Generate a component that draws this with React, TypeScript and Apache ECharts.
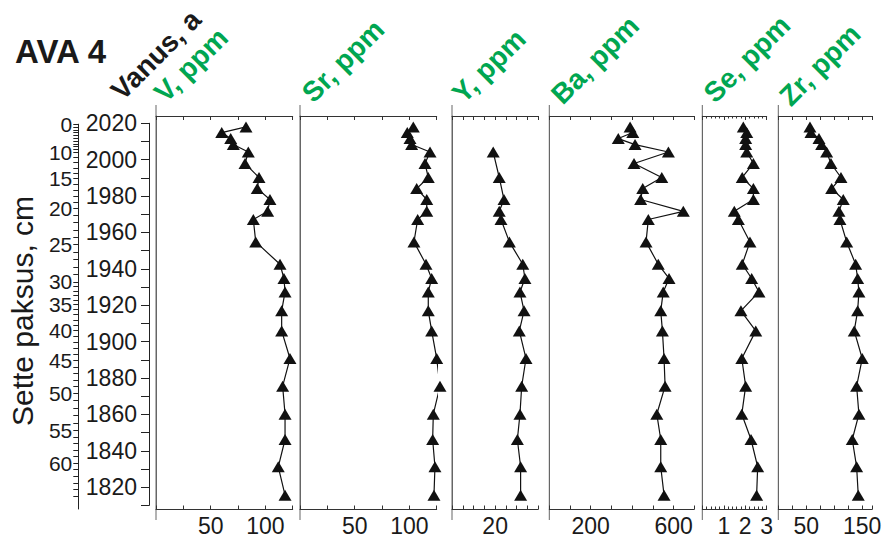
import React, { useEffect, useRef } from "react";
import * as echarts from "echarts";

// ---------- data ----------
const chartTitle = "AVA 4";
const ageAxisTitle = "Vanus, a";
const depthAxisTitle = "Sette paksus, cm";

const elementNames = ["V, ppm", "Sr, ppm", "Y, ppm", "Ba, ppm", "Se, ppm", "Zr, ppm"];

// sample ages (years AD), top to bottom
const sampleAges = [2018.0, 2014.9, 2011.6, 2008.3, 2004.2, 1997.9, 1990.2, 1984.1, 1978.1, 1971.6, 1967.1, 1954.8, 1942.5, 1934.7, 1927.3, 1916.9, 1905.9, 1890.7, 1875.5, 1860.1, 1846.2, 1831.2, 1815.6];

const vValues = [82.3, 60.1, 68.3, 70.7, 84.4, 81.4, 94.2, 92.6, 104.2, 102.1, 89.0, 91.2, 113.4, 117.0, 118.0, 114.9, 114.9, 122.5, 115.8, 118.0, 118.0, 111.8, 118.0];
const srValues = [103.6, 98.1, 100.6, 102.1, 118.9, 114.3, 117.3, 106.7, 115.9, 115.9, 107.6, 104.2, 115.2, 120.4, 117.3, 117.3, 120.4, 125.0, 128.0, 121.9, 121.3, 123.4, 122.5];
const yValues = [null, null, null, null, 19.1, null, 21.9, null, 24.1, 21.9, 22.7, 26.6, 32.8, 33.8, 31.5, 33.4, 31.2, 34.3, 32.3, 31.5, 30.3, 31.8, 31.8];
const baValues = [390, 403, 333, 414, 575, 409, 543, 451, 441, 647, 478, 467, 526, 578, 550, 538, 546, 554, 559, 519, 538, 538, 554];
const seValues = [1.91, 2.07, 2.02, 2.02, 2.07, 2.38, 1.86, 2.38, 2.38, 1.49, 1.68, 2.22, 1.86, 2.3, 2.64, 1.8, 2.49, 1.84, 2.02, 1.84, 2.27, 2.58, 2.53];
const zrValues = [56.6, 58.4, 72.7, 77.5, 86.4, 94.1, 112.0, 95.4, 116.1, 108.4, 110.2, 122.2, 138.2, 141.8, 144.1, 141.8, 135.7, 150.0, 140.0, 144.1, 132.2, 140.0, 142.9];

const panelValues = [vValues, srValues, yValues, baValues, seValues, zrValues];

const axisMins = [0, 0, 0, 0, 0, 0];
const axisMaxs = [125, 125, 40, 700, 3, 168];
const tickSteps = [25, 25, 5, 100, 1, 25];
const shownTickLabels = [[50, 100], [50, 100], [20], [200, 600], [1, 2, 3], [50, 150]];

// age axis
const ageAxisMin = 1810;
const ageAxisMax = 2020;
const ageTickStep = 10;
const ageLabelStep = 20;

// depth axis: labelled depths (cm) and the ages they sit at
const depthTickLabels = [0, 10, 15, 20, 25, 30, 35, 40, 45, 50, 55, 60];
const depthTickAges = [2019.5, 2004.1, 1989.8, 1973.3, 1953.5, 1932.9, 1920.5, 1906.2, 1889.8, 1871.6, 1851.3, 1833.2];
const depthLastTick = 65;

// ---------- layout ----------
const W = 883;
const H = 540;
const PLOT_TOP = 116;
const PLOT_BOTTOM = 509;
const AGE_TOP = 2024;
const AGE_BOTTOM = 1808;
const panelLeft = [156, 300, 452, 549.3, 702.3, 778.3];
const panelWidth = [136.7, 136.7, 86.3, 145, 64.4, 94];
const nameCenters = [[191, 65], [343, 61], [489, 66], [595, 60], [747, 59], [820, 65]];
const AGE_AXIS_X = 149;
const DEPTH_AXIS_X = 78.3;
const FONT = "'Liberation Sans', Arial, Helvetica, sans-serif";
const GREEN = "#00A651";
const INK = "#1a1a1a";

function yOf(age: number) {
  return PLOT_TOP + ((AGE_TOP - age) * (PLOT_BOTTOM - PLOT_TOP)) / (AGE_TOP - AGE_BOTTOM);
}

function buildDepthMinorAges() {
  const out: number[] = [];
  for (let k = 0; k < depthTickLabels.length - 1; k++) {
    const d0 = depthTickLabels[k], d1 = depthTickLabels[k + 1];
    const a0 = depthTickAges[k], a1 = depthTickAges[k + 1];
    for (let d = d0; d < d1; d++) out.push(a0 + ((a1 - a0) * (d - d0)) / (d1 - d0));
  }
  const n = depthTickLabels.length;
  const slope = (depthTickAges[n - 1] - depthTickAges[n - 2]) / (depthTickLabels[n - 1] - depthTickLabels[n - 2]);
  for (let d = depthTickLabels[n - 1]; d <= depthLastTick; d++) {
    const a = depthTickAges[n - 1] + slope * (d - depthTickLabels[n - 1]);
    if (a >= AGE_BOTTOM) out.push(a);
  }
  return out;
}

function buildOption() {
  const labelStyle = { fontFamily: FONT, fontSize: 23, color: INK };
  const grids: any[] = [];
  const xAxes: any[] = [];
  const yAxes: any[] = [];
  const series: any[] = [];
  const graphics: any[] = [];

  elementNames.forEach((name, i) => {
    grids.push({
      left: panelLeft[i],
      width: panelWidth[i],
      top: PLOT_TOP,
      height: PLOT_BOTTOM - PLOT_TOP,
      containLabel: false,
      outerBoundsMode: "none",
    });
    const shown = shownTickLabels[i];
    const common = {
      gridIndex: i,
      type: "value",
      min: axisMins[i],
      max: axisMaxs[i],
      interval: tickSteps[i],
      splitLine: { show: false },
      minorSplitLine: { show: false },
      minorTick: i === 4 ? { show: true, splitNumber: 5, length: 2.5, lineStyle: { color: "#333" } } : { show: false },
    };
    xAxes.push({
      ...common,
      position: "bottom",
      axisLine: { show: true, onZero: false, lineStyle: { color: "#333", width: 1 } },
      axisTick: { show: true, inside: true, length: 3.5, lineStyle: { color: "#333" } },
      axisLabel: {
        show: true,
        margin: 5,
        ...labelStyle,
        showMinLabel: true,
        showMaxLabel: true,
        formatter: (v: number) => (shown.some((s) => Math.abs(s - v) < 1e-9) ? String(v) : ""),
      },
    });
    xAxes.push({
      ...common,
      position: "top",
      axisLine: { show: true, onZero: false, lineStyle: { color: "#333", width: 1 } },
      axisTick: { show: true, inside: true, length: 4, lineStyle: { color: "#333" } },
      axisLabel: { show: false },
    });
    yAxes.push({
      gridIndex: i,
      type: "value",
      position: "left",
      min: AGE_BOTTOM,
      max: AGE_TOP,
      axisLine: { show: true, onZero: false, lineStyle: { color: "#666", width: 1 } },
      axisTick: { show: false },
      axisLabel: { show: false },
      splitLine: { show: false },
    });
    const vals = panelValues[i];
    const data: number[][] = [];
    vals.forEach((v, k) => {
      if (v !== null && v !== undefined) data.push([v as number, sampleAges[k]]);
    });
    series.push({
      type: "line",
      name,
      xAxisIndex: 2 * i,
      yAxisIndex: i,
      data,
      symbol: "triangle",
      symbolSize: [13, 11],
      showSymbol: true,
      clip: false,
      silent: true,
      itemStyle: { color: "#111" },
      lineStyle: { color: "#111", width: 1.2 },
    });
    // element name, rotated
    graphics.push({
      type: "text",
      x: nameCenters[i][0],
      y: nameCenters[i][1],
      rotation: Math.PI / 4,
      style: {
        text: name,
        align: "center",
        verticalAlign: "middle",
        fontFamily: FONT,
        fontSize: 28,
        fontWeight: "bold",
        fill: GREEN,
      },
    });
    // panel vertical line extends above and below the plot
    graphics.push({
      type: "line",
      shape: { x1: panelLeft[i], y1: 105, x2: panelLeft[i], y2: 520 },
      style: { stroke: "#666", lineWidth: 1 },
    });
  });

  // age axis grid (index 6)
  grids.push({
    left: AGE_AXIS_X,
    width: 1,
    top: yOf(ageAxisMax),
    height: yOf(ageAxisMin) - yOf(ageAxisMax),
    containLabel: false,
    outerBoundsMode: "none",
  });
  xAxes.push({ gridIndex: 6, type: "value", show: false });
  yAxes.push({
    gridIndex: 6,
    type: "value",
    position: "left",
    min: ageAxisMin,
    max: ageAxisMax,
    interval: ageTickStep,
    axisLine: { show: true, onZero: false, lineStyle: { color: "#222", width: 1 } },
    axisTick: { show: true, inside: false, length: 8, lineStyle: { color: "#222" } },
    axisLabel: {
      show: true,
      margin: 12,
      ...labelStyle,
      formatter: (v: number) => (v % ageLabelStep === 0 ? String(v) : ""),
    },
    splitLine: { show: false },
  });

  // depth axis grid (index 7)
  const depthMinor = buildDepthMinorAges();
  grids.push({
    left: DEPTH_AXIS_X,
    width: 1,
    top: yOf(depthTickAges[0]),
    height: PLOT_BOTTOM - yOf(depthTickAges[0]),
    containLabel: false,
    outerBoundsMode: "none",
  });
  xAxes.push({ gridIndex: 7, type: "value", show: false });
  yAxes.push({
    gridIndex: 7,
    type: "value",
    position: "left",
    min: AGE_BOTTOM,
    max: depthTickAges[0],
    axisLine: { show: true, onZero: false, lineStyle: { color: "#222", width: 1 } },
    axisTick: { show: true, inside: false, length: 5, customValues: depthMinor, lineStyle: { color: "#222" } },
    axisLabel: {
      show: true,
      margin: 6,
      fontFamily: FONT,
      fontSize: 21,
      color: INK,
      lineHeight: 20,
      customValues: depthTickAges,
      formatter: (v: number) => {
        const idx = depthTickAges.findIndex((a) => Math.abs(a - v) < 1e-6);
        return idx >= 0 ? String(depthTickLabels[idx]) : "";
      },
    },
    splitLine: { show: false },
  });

  graphics.push({
    type: "text",
    x: 15,
    y: 51,
    style: {
      text: chartTitle,
      align: "left",
      verticalAlign: "middle",
      fontFamily: FONT,
      fontSize: 33,
      fontWeight: "bold",
      fill: INK,
    },
  });
  graphics.push({
    type: "text",
    x: 156,
    y: 55,
    rotation: Math.PI / 4,
    style: {
      text: ageAxisTitle,
      align: "center",
      verticalAlign: "middle",
      fontFamily: FONT,
      fontSize: 28,
      fontWeight: "bold",
      fill: INK,
    },
  });
  graphics.push({
    type: "text",
    x: 22,
    y: 311,
    rotation: Math.PI / 2,
    style: {
      text: depthAxisTitle,
      align: "center",
      verticalAlign: "middle",
      fontFamily: FONT,
      fontSize: 30,
      fill: INK,
    },
  });

  return {
    animation: false,
    backgroundColor: "#ffffff",
    grid: grids,
    xAxis: xAxes,
    yAxis: yAxes,
    series,
    graphic: graphics,
  };
}

export default function App() {
  const ref = useRef<HTMLDivElement>(null);
  useEffect(() => {
    if (!ref.current) return;
    const chart = echarts.init(ref.current, undefined, { renderer: "svg" });
    chart.setOption(buildOption() as any);
    return () => chart.dispose();
  }, []);
  return (
    <div
      ref={ref}
      style={{ position: "fixed", left: 0, top: 0, width: W, height: H, background: "#fff" }}
    />
  );
}
